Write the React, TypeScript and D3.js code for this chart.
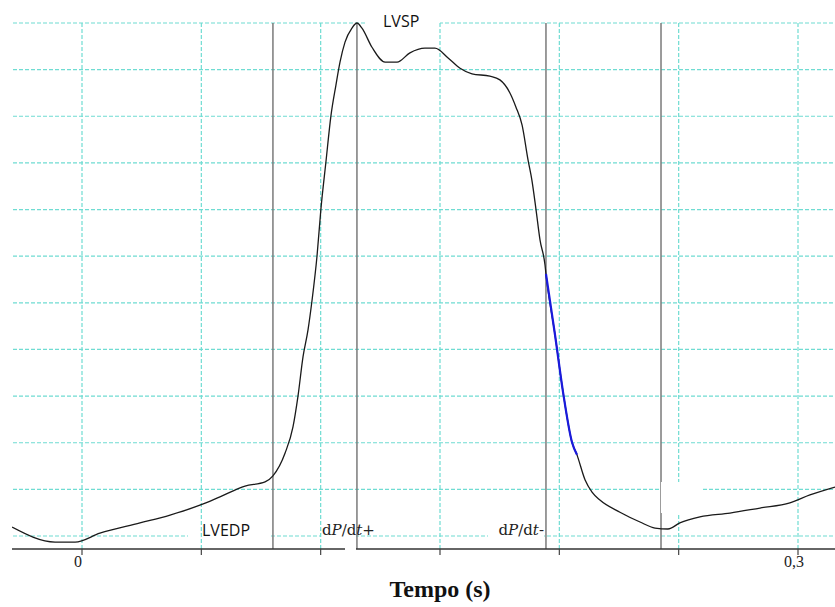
import React from "react";
import * as d3 from "d3";

// Time (ms) and left-ventricular pressure (arbitrary units, grid every 10)
const timeMs = [
  -29.3, -11.3, -2.9, 7.5, 24.3, 36.9, 49.4, 57.8, 68.3, 76.7, 80.0, 85.1, 88.4, 90.5,
  92.6, 94.7, 96.4, 98.5, 100.1, 102.2, 104.3, 106.4, 108.1, 110.2, 113.1, 115.2, 117.3,
  121.5, 127.0, 132.0, 137.4, 143.7, 147.9, 153.4, 158.4, 163.4, 170.9, 175.1, 179.3,
  181.8, 184.4, 186.9, 188.5, 190.2, 191.9, 194.0, 194.4, 198.2, 201.6, 205.3,
  207.4, 210.8, 213.7, 217.0, 225.4, 233.8, 240.1, 245.5, 250.5, 258.9, 271.5, 284.1,
  296.6, 305.0, 315.5,
];
const pressure = [
  1.9, -1.3, -1.3, 0.6, 2.8, 4.5, 6.6, 8.4, 10.7, 11.6, 12.9, 17.8, 23.4, 30.0,
  38.4, 44.2, 50.6, 60.2, 70.1, 80.2, 90.1, 96.7, 101.6, 105.9, 108.9, 110.0, 108.9,
  104.8, 101.6, 101.6, 103.6, 104.6, 104.6, 102.5, 100.3, 99.1, 98.6, 97.8, 95.0,
  92.0, 88.1, 80.6, 76.3, 70.1, 63.5, 58.1, 56.2, 43.1, 30.7, 20.1,
  17.4, 12.0, 9.4, 7.7, 5.1, 3.0, 1.7, 1.5, 2.8, 4.1, 4.9, 6.0,
  7.1, 8.8, 10.5,
];
const markerTimesMs = [80.0, 115.2, 194.4, 242.6];
const blueRangeMs = [194.4, 207.4];
const xTickValues = [0, 0.05, 0.1, 0.15, 0.2, 0.25, 0.3];
const xTickLabels = ["0", "", "", "", "", "", "0,3"];
const yGridValues = [0, 10, 20, 30, 40, 50, 60, 70, 80, 90, 100, 110];

const W = 835;
const H = 607;
const GRID = "#6fdcd2";

export default function App() {
  const x = d3.scaleLinear().domain([0, 0.3]).range([82, 798]);
  const y = d3.scaleLinear().domain([0, 110]).range([536, 23]);
  const axisY = 549;
  const left = 12;
  const right = 835;

  const pts = timeMs.map((t, i) => [t / 1000, pressure[i]] as [number, number]);
  const line = d3
    .line<[number, number]>()
    .x((d) => x(d[0]))
    .y((d) => y(d[1]))
    .curve(d3.curveMonotoneX);
  const bluePts = pts.filter(
    (d) => d[0] * 1000 >= blueRangeMs[0] && d[0] * 1000 <= blueRangeMs[1]
  );

  const serif = "'Liberation Serif', 'DejaVu Serif', serif";
  const dserif = "'DejaVu Serif', 'Liberation Serif', serif";
  const sans = "'Open Sans', 'Noto Sans', sans-serif";

  const mk = markerTimesMs.map((t) => x(t / 1000));

  return (
    <svg
      width={W}
      height={H}
      style={{ position: "absolute", left: 0, top: 0, background: "#fff" }}
    >
      {/* horizontal grid */}
      {yGridValues.map((v) => (
        <line
          key={"h" + v}
          x1={13}
          x2={right}
          y1={y(v)}
          y2={y(v)}
          stroke={GRID}
          strokeWidth={1.2}
          strokeDasharray="4,2"
        />
      ))}
      {/* white patches behind labels (under vertical grid) */}
      <rect x={366} y={10} width={74} height={22} fill="#fff" />
      <rect x={188} y={518} width={82} height={24} fill="#fff" />
      <rect x={321} y={518} width={35} height={24} fill="#fff" />
      <rect x={488} y={518} width={56} height={24} fill="#fff" />
      {/* vertical grid */}
      {xTickValues.map((v) => (
        <line
          key={"v" + v}
          x1={x(v)}
          x2={x(v)}
          y1={y(110)}
          y2={axisY}
          stroke={GRID}
          strokeWidth={1.2}
          strokeDasharray="4,2"
        />
      ))}
      {/* marker lines */}
      {mk.map((px, i) => (
        <line
          key={"m" + i}
          x1={px}
          x2={px}
          y1={y(110)}
          y2={axisY}
          stroke="#7a7a7a"
          strokeWidth={1.5}
        />
      ))}
      <rect x={661} y={482} width={41} height={31} fill="#fff" />
      {/* x axis */}
      <line x1={left} x2={345} y1={axisY} y2={axisY} stroke="#333" strokeWidth={1.5} />
      <line x1={356} x2={right} y1={axisY} y2={axisY} stroke="#333" strokeWidth={1.5} />
      {xTickValues.map((v, i) => (
        <g key={"t" + v}>
          <line x1={x(v)} x2={x(v)} y1={axisY} y2={axisY + 6} stroke="#444" strokeWidth={1.2} />
          {xTickLabels[i] && (
            <text
              x={x(v) - 4}
              y={567}
              textAnchor="middle"
              fontFamily={serif}
              fontSize={16}
              fill="#222"
            >
              {xTickLabels[i]}
            </text>
          )}
        </g>
      ))}
      {/* curve */}
      <clipPath id="plotclip">
        <rect x={left} y={0} width={right - left} height={H} />
      </clipPath>
      <g clipPath="url(#plotclip)">
        <path d={line(pts) || ""} fill="none" stroke="#1a1a1a" strokeWidth={1.3} />
        <path d={line(bluePts) || ""} fill="none" stroke="#1a1adc" strokeWidth={2.2} />
      </g>
      {/* labels */}
      <text x={383} y={27} fontFamily={sans} fontSize={16} fill="#111">
        LVSP
      </text>
      <text x={202} y={536} fontFamily={sans} fontSize={16} fill="#111">
        LVEDP
      </text>
      <text x={mk[1] - 35} y={535} fontFamily={dserif} fontSize={15} fill="#222">
        <tspan>d</tspan>
        <tspan fontStyle="italic">P</tspan>
        <tspan>/d</tspan>
        <tspan fontStyle="italic">t</tspan>
        <tspan>+</tspan>
      </text>
      <text x={mk[2] - 2} y={535} textAnchor="end" fontFamily={dserif} fontSize={15} fill="#222">
        <tspan>d</tspan>
        <tspan fontStyle="italic">P</tspan>
        <tspan>/d</tspan>
        <tspan fontStyle="italic">t</tspan>
        <tspan>-</tspan>
      </text>
      <text
        x={440}
        y={597}
        textAnchor="middle"
        fontFamily={serif}
        fontWeight="bold"
        fontSize={24}
        fill="#111"
      >
        Tempo (s)
      </text>
    </svg>
  );
}
